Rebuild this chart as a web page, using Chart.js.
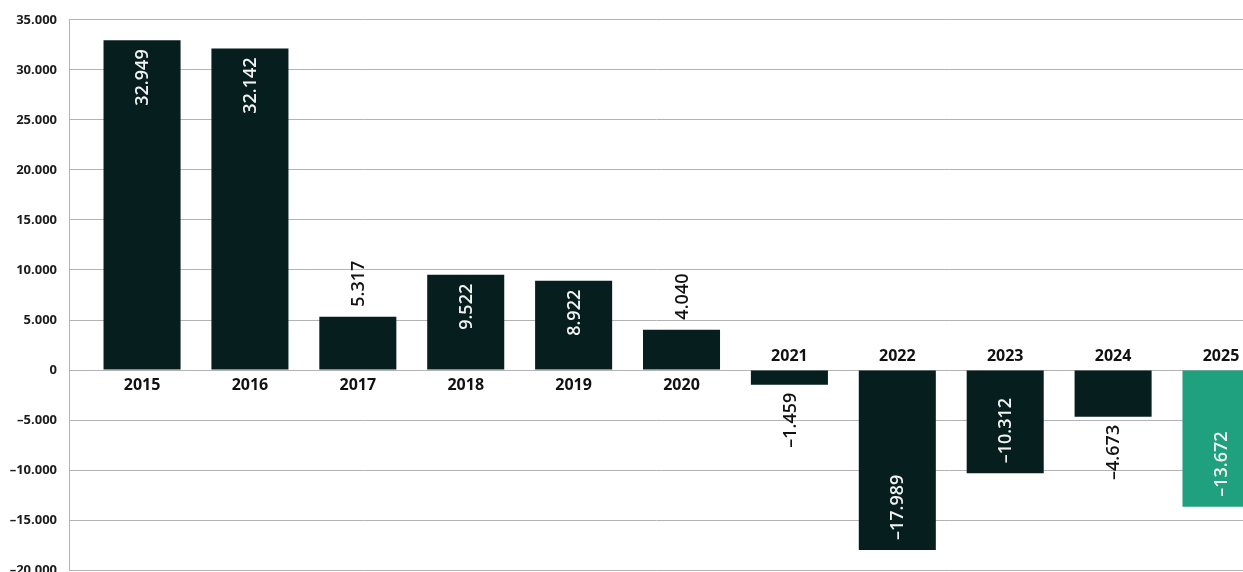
<!DOCTYPE html>
<html>
<head>
<meta charset="utf-8">
<script src="https://cdn.jsdelivr.net/npm/chart.js@4.4.1/dist/chart.umd.min.js"></script>
<style>
  html, body { margin: 0; padding: 0; background: #fff; overflow: hidden; }
  #wrap { width: 1243px; height: 572px; overflow: hidden; }
  #box { width: 1243px; height: 590px; position: relative; }
</style>
</head>
<body>
<div id="wrap"><div id="box"><canvas id="chartSaldo"></canvas></div></div>
<script>
var years = ['2015', '2016', '2017', '2018', '2019', '2020', '2021', '2022', '2023', '2024', '2025'];
var values = [32949, 32142, 5317, 9522, 8922, 4040, -1459, -17989, -10312, -4673, -13672];
var highlightYear = '2025';
var yMin = -20000;
var yMax = 35000;
var yStep = 5000;

var darkColor = '#061e1e';
var greenColor = '#1fa07f';
var fontFamily = '"Open Sans", "DejaVu Sans", sans-serif';

// 12345 -> "12.345", -1459 -> "–1.459"
function fmt(v) {
    var s = String(Math.abs(v)).replace(/\B(?=(\d{3})+(?!\d))/g, '.');
    return (v < 0 ? '\u2013' : '') + s;
}

var barLabels = {
    id: 'barLabels',
    afterDatasetsDraw: function(chart) {
        var ctx = chart.ctx;
        var meta = chart.getDatasetMeta(0);
        var zero = chart.scales.y.getPixelForValue(0);
        ctx.save();
        meta.data.forEach(function(bar, i) {
            var v = values[i];
            var top = Math.min(bar.y, bar.base);
            var bottom = Math.max(bar.y, bar.base);
            var h = bottom - top;
            var txt = fmt(v);

            // value, rotated to read upwards
            ctx.font = '600 18px ' + fontFamily;
            var w = ctx.measureText(txt).width;
            var inside = h >= w + 20;
            var y, align;
            if (v >= 0) {
                y = inside ? top + 9 : top - 10;
                align = inside ? 'right' : 'left';
            } else {
                y = inside ? bottom - 10 : bottom + 8;
                align = inside ? 'left' : 'right';
            }
            ctx.save();
            ctx.translate(bar.x, y);
            ctx.rotate(-Math.PI / 2);
            ctx.textAlign = align;
            ctx.textBaseline = 'middle';
            ctx.fillStyle = inside ? '#f2f2f2' : '#111';
            ctx.fillText(txt, 0, 1);
            ctx.restore();

            // year on the opposite side of the zero line
            ctx.font = 'bold 16px ' + fontFamily;
            ctx.textAlign = 'center';
            ctx.textBaseline = 'middle';
            ctx.fillStyle = '#111';
            ctx.fillText(years[i], bar.x, v >= 0 ? zero + 15 : zero - 14);
        });
        ctx.restore();
    }
};

function chartSaldo() {
    var ctx = document.querySelector('#chartSaldo').getContext('2d');
    return new Chart(ctx, {
        type: 'bar',
        data: {
            datasets: [{
                data: values.map(function(v, i) { return { x: i, y: v }; }),
                backgroundColor: years.map(function(y) {
                    return y === highlightYear ? greenColor : darkColor;
                }),
                barPercentage: 0.714,
                categoryPercentage: 1
            }]
        },
        options: {
            responsive: true,
            maintainAspectRatio: false,
            animation: false,
            layout: { padding: { top: 18, bottom: 0, left: 0, right: 0 } },
            plugins: {
                legend: { display: false },
                tooltip: { enabled: false }
            },
            scales: {
                x: {
                    type: 'linear',
                    min: -0.677,
                    max: 10.204,
                    offset: false,
                    grid: { offset: false },
                    ticks: { stepSize: 1, includeBounds: false },
                    display: false
                },
                y: {
                    min: yMin,
                    max: yMax,
                    afterFit: function(scale) { scale.width = 69; },
                    ticks: {
                        stepSize: yStep,
                        padding: 12,
                        color: '#1b1b1b',
                        font: { family: fontFamily, size: 13, weight: 'bold' },
                        callback: function(v) { return fmt(v); }
                    },
                    grid: { color: '#b3b3b3', lineWidth: 1, drawTicks: false },
                    border: { color: '#b3b3b3' }
                }
            }
        },
        plugins: [barLabels]
    });
}
chartSaldo();
</script>
</body>
</html>
